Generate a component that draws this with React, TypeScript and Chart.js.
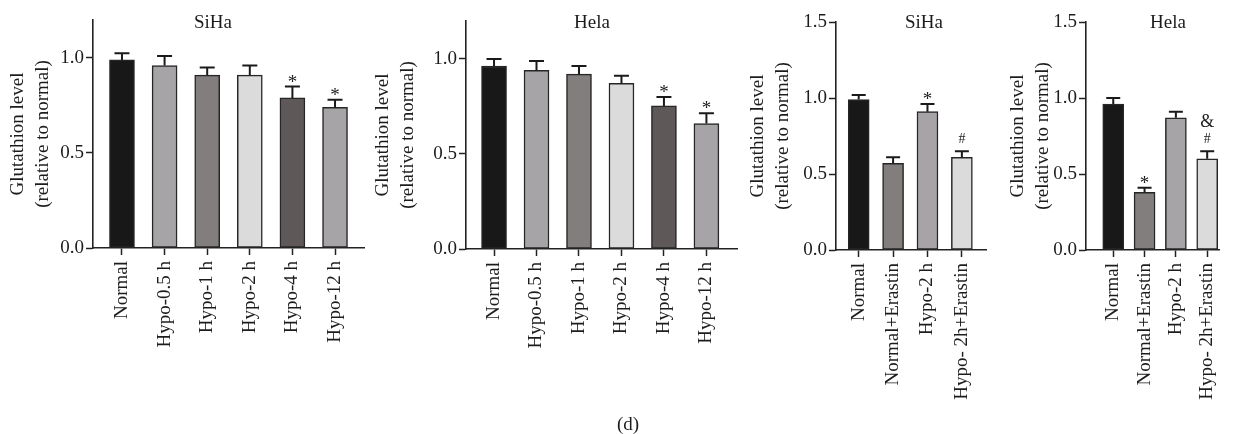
import React, { useEffect, useRef } from "react";
import { Chart, registerables } from "chart.js";

Chart.register(...registerables);

const FONT = "'Liberation Serif', 'Times New Roman', serif";
const TEXT = "#1c1c1c";
const FS = 19;

const BLACK = "#181818";
const LIGHT = "#a6a4a7";
const MID = "#827e7d";
const PALE = "#dcdbdb";
const DARK = "#5e5958";

// Panel 1 (SiHa, time course)
const timeCategories = ["Normal", "Hypo-0.5 h", "Hypo-1 h", "Hypo-2 h", "Hypo-4 h", "Hypo-12 h"];
const sihaTimeValues = [0.99, 0.96, 0.91, 0.91, 0.79, 0.74];
const sihaTimeErrors = [0.035, 0.05, 0.04, 0.05, 0.06, 0.04];
const sihaTimeSig = ["", "", "", "", "*", "*"];

// Panel 2 (Hela, time course)
const helaTimeValues = [0.963, 0.94, 0.92, 0.872, 0.753, 0.66];
const helaTimeErrors = [0.037, 0.05, 0.043, 0.04, 0.047, 0.055];
const helaTimeSig = ["", "", "", "", "*", "*"];

// Panels 3 & 4 (Erastin)
const erastinCategories = ["Normal", "Normal+Erastin", "Hypo-2 h", "Hypo- 2h+Erastin"];
const sihaErastinValues = [0.99, 0.57, 0.91, 0.61];
const sihaErastinErrors = [0.03, 0.04, 0.05, 0.04];
const sihaErastinSig = ["", "", "*", "#"];
const sihaErastinSig2 = ["", "", "", ""];

const helaErastinValues = [0.96, 0.38, 0.87, 0.6];
const helaErastinErrors = [0.04, 0.03, 0.04, 0.05];
const helaErastinSig = ["", "*", "", "#"];
const helaErastinSig2 = ["", "", "", "&"];

const yTicksShort = [0, 0.5, 1.0];
const yTicksTall = [0, 0.5, 1.0, 1.5];

const timeColors = [BLACK, LIGHT, MID, PALE, DARK, LIGHT];
const erastinColors = [BLACK, MID, LIGHT, PALE];

const yTitle = ["Glutathion level", "(relative to normal)"];

type Panel = {
  title: string;
  categories: string[];
  values: number[];
  errors: number[];
  sig: string[];
  sig2: string[];
  colors: string[];
  yTicks: number[];
  yMax: number;
  xMin: number;
  xMax: number;
  left: number;
  width: number;
  axisW: number;
  top: number;
  bottom: number;
  padRight: number;
  barW: number;
  capW: number;
  titleX: number;
};

const panels: Panel[] = [
  {
    title: "SiHa", categories: timeCategories, values: sihaTimeValues, errors: sihaTimeErrors,
    sig: sihaTimeSig, sig2: ["", "", "", "", "", ""], colors: timeColors, yTicks: yTicksShort, yMax: 1.2,
    xMin: -0.68, xMax: 5.68, left: 0, width: 366, axisW: 93, top: 20, bottom: 248, padRight: 2,
    barW: 25, capW: 15, titleX: 213,
  },
  {
    title: "Hela", categories: timeCategories, values: helaTimeValues, errors: helaTimeErrors,
    sig: helaTimeSig, sig2: ["", "", "", "", "", ""], colors: timeColors, yTicks: yTicksShort, yMax: 1.2,
    xMin: -0.66, xMax: 5.72, left: 365, width: 374, axisW: 101, top: 21, bottom: 249, padRight: 2,
    barW: 25, capW: 15, titleX: 592,
  },
  {
    title: "SiHa", categories: erastinCategories, values: sihaErastinValues, errors: sihaErastinErrors,
    sig: sihaErastinSig, sig2: sihaErastinSig2, colors: erastinColors, yTicks: yTicksTall, yMax: 1.5,
    xMin: -0.66, xMax: 3.71, left: 740, width: 251, axisW: 96, top: 22, bottom: 250, padRight: 2,
    barW: 21, capW: 14, titleX: 924,
  },
  {
    title: "Hela", categories: erastinCategories, values: helaErastinValues, errors: helaErastinErrors,
    sig: helaErastinSig, sig2: helaErastinSig2, colors: erastinColors, yTicks: yTicksTall, yMax: 1.5,
    xMin: -0.87, xMax: 3.4, left: 1000, width: 236, axisW: 86, top: 22, bottom: 250, padRight: 0,
    barW: 21, capW: 14, titleX: 1168,
  },
];

const CANVAS_H = 434;

function PanelChart({ p }: { p: Panel }) {
  const ref = useRef<HTMLCanvasElement | null>(null);
  useEffect(() => {
    if (!ref.current) return;
    const errorPlugin = {
      id: "errAndSig",
      afterDatasetsDraw(chart: any) {
        const ctx = chart.ctx;
        const meta = chart.getDatasetMeta(0);
        const ys = chart.scales.y;
        ctx.save();
        meta.data.forEach((bar: any, i: number) => {
          const x = bar.x;
          const yTop = ys.getPixelForValue(p.values[i]);
          const yCap = ys.getPixelForValue(p.values[i] + p.errors[i]);
          ctx.strokeStyle = "#1a1a1a";
          ctx.lineWidth = 2;
          ctx.beginPath();
          ctx.moveTo(x, yTop);
          ctx.lineTo(x, yCap);
          ctx.moveTo(x - p.capW / 2, yCap);
          ctx.lineTo(x + p.capW / 2, yCap);
          ctx.stroke();
          ctx.fillStyle = TEXT;
          ctx.textAlign = "center";
          ctx.textBaseline = "alphabetic";
          const s = p.sig[i];
          if (s === "*") {
            ctx.font = `${FS}px ${FONT}`;
            ctx.fillText(s, x, yCap + 1);
          } else if (s === "#") {
            ctx.font = `14px ${FONT}`;
            ctx.fillText(s, x, yCap - 8.5);
          }
          const s2 = p.sig2[i];
          if (s2) {
            ctx.font = `18px ${FONT}`;
            ctx.fillText(s2, x, yCap - 24);
          }
        });
        ctx.restore();
      },
      afterDraw(chart: any) {
        const ctx = chart.ctx;
        ctx.save();
        ctx.fillStyle = TEXT;
        ctx.font = `${FS}px ${FONT}`;
        ctx.textAlign = "center";
        ctx.textBaseline = "middle";
        ctx.fillText(p.title, p.titleX - p.left, 23);
        ctx.restore();
      },
    };

    const chart = new Chart(ref.current, {
      type: "bar",
      data: {
        datasets: [
          {
            data: p.values.map((v, i) => ({ x: i, y: v })),
            backgroundColor: p.colors,
            borderColor: "#262626",
            borderWidth: 1.5,
            borderSkipped: false,
            barThickness: p.barW,
          } as any,
        ],
      },
      options: {
        responsive: false,
        maintainAspectRatio: false,
        animation: false,
        layout: { padding: { left: 0, right: p.padRight, top: p.top, bottom: 0 } },
        plugins: { legend: { display: false }, tooltip: { enabled: false }, title: { display: false } },
        scales: {
          x: {
            type: "linear",
            offset: false,
            min: p.xMin,
            max: p.xMax,
            afterBuildTicks: (s: any) => {
              s.ticks = p.categories.map((_, i) => ({ value: i }));
            },
            afterFit: (s: any) => {
              s.height = CANVAS_H - p.bottom;
            },
            grid: {
              display: true,
              offset: false,
              drawOnChartArea: false,
              drawTicks: true,
              tickLength: 7,
              tickColor: "#222",
              tickWidth: 1.5,
            },
            border: { display: true, color: "#222", width: 1.6 },
            ticks: {
              autoSkip: false,
              maxRotation: 90,
              minRotation: 90,
              padding: 6,
              color: TEXT,
              font: { family: FONT, size: FS },
              callback: (v: any) => p.categories[Math.round(Number(v))] ?? "",
            },
          },
          y: {
            type: "linear",
            min: 0,
            max: p.yMax,
            afterBuildTicks: (s: any) => {
              s.ticks = p.yTicks.map((v) => ({ value: v }));
            },
            afterFit: (s: any) => {
              s.width = p.axisW;
            },
            grid: {
              display: true,
              drawOnChartArea: false,
              drawTicks: true,
              tickLength: 7,
              tickColor: "#222",
              tickWidth: 1.5,
            },
            border: { display: true, color: "#222", width: 1.6 },
            ticks: {
              padding: 2,
              color: TEXT,
              font: { family: FONT, size: FS },
              callback: (v: any) => Number(v).toFixed(1),
            },
            title: {
              display: true,
              text: yTitle,
              color: TEXT,
              font: { family: FONT, size: FS, lineHeight: 1.32 },
              padding: { top: 5, bottom: 0 },
            },
          },
        },
      } as any,
      plugins: [errorPlugin],
    });
    return () => chart.destroy();
  }, [p]);

  return (
    <canvas
      ref={ref}
      width={p.width}
      height={CANVAS_H}
      style={{ position: "absolute", left: p.left, top: 0, width: p.width, height: CANVAS_H }}
    />
  );
}

export default function App() {
  return (
    <div style={{ position: "absolute", left: 0, top: 0, width: 1236, height: 434, background: "#fff", overflow: "hidden" }}>
      {panels.map((p, i) => (
        <PanelChart key={i} p={p} />
      ))}
      <div
        style={{
          position: "absolute",
          left: 0,
          width: 1256,
          top: 414,
          textAlign: "center",
          fontFamily: FONT,
          fontSize: FS,
          lineHeight: "20px",
          color: TEXT,
        }}
      >
        (d)
      </div>
    </div>
  );
}
